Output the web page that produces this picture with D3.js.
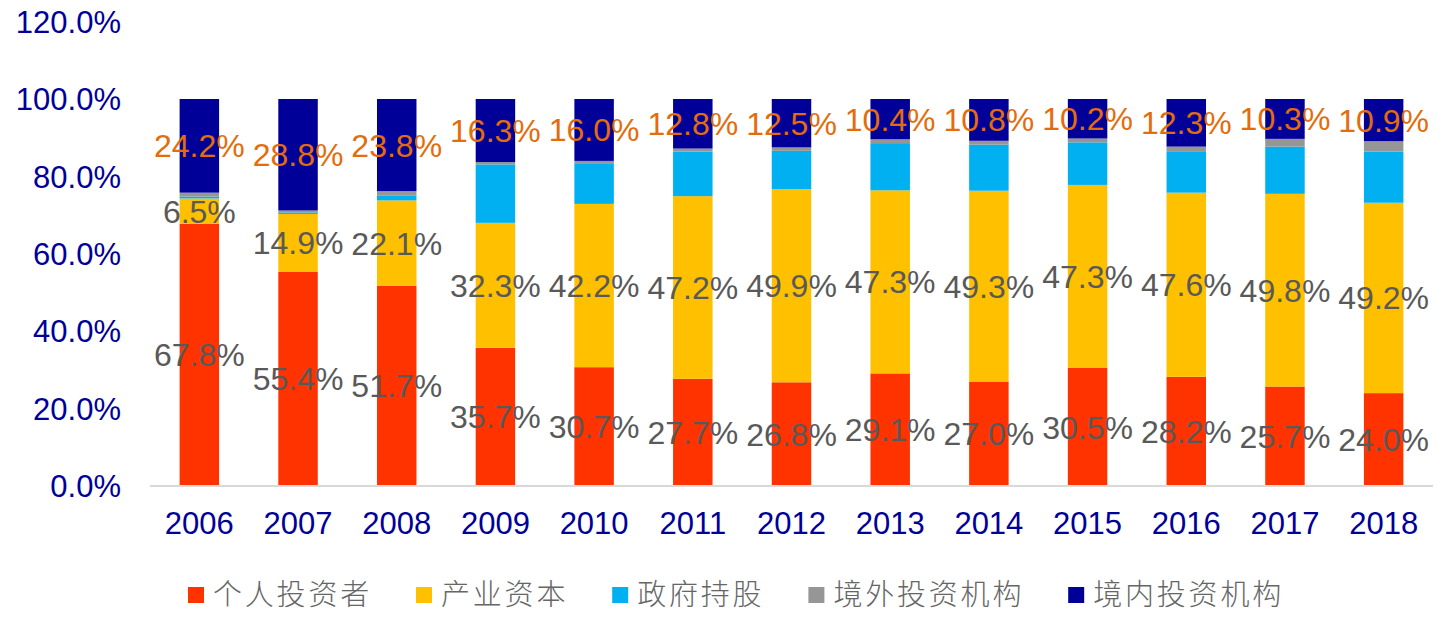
<!DOCTYPE html>
<html>
<head>
<meta charset="utf-8">
<script src="https://cdn.jsdelivr.net/npm/d3@7"></script>
<style>
  html, body { margin: 0; padding: 0; background: #fff; }
  svg { display: block; }
</style>
</head>
<body>
<div id="chart"></div>
<script>
// Years on the x axis.
var years = ['2006', '2007', '2008', '2009', '2010', '2011', '2012',
  '2013', '2014', '2015', '2016', '2017', '2018'];

// Shares (%) per holder type, bottom to top.
var personal = [67.8, 55.4, 51.7, 35.7, 30.7, 27.7, 26.8, 29.1, 27.0, 30.5, 28.2, 25.7, 24.0];
var industrial = [6.5, 14.9, 22.1, 32.3, 42.2, 47.2, 49.9, 47.3, 49.3, 47.3, 47.6, 49.8, 49.2];
var government = [0.5, 0.4, 1.3, 15.1, 10.5, 11.5, 9.9, 12.2, 11.9, 11.0, 10.7, 12.2, 13.2];
var foreign = [1.0, 0.5, 1.1, 0.6, 0.6, 0.8, 0.9, 1.0, 1.0, 1.0, 1.2, 2.0, 2.7];
var domestic = [24.2, 28.8, 23.8, 16.3, 16.0, 12.8, 12.5, 10.4, 10.8, 10.2, 12.3, 10.3, 10.9];

var seriesNames = ['个人投资者', '产业资本', '政府持股', '境外投资机构', '境内投资机构'];
var seriesValues = [personal, industrial, government, foreign, domestic];
var yTicks = [0, 20, 40, 60, 80, 100, 120];

var colors = ['#FF3300', '#FFC000', '#00B0F0', '#969696', '#000099'];
// which series get data labels, and in what colour
var labelColors = ['#595959', '#595959', null, null, '#E46C0A'];

var width = 1449, height = 618;

var svg = d3.select('#chart').append('svg')
  .attr('width', width)
  .attr('height', height);

// Build table rows for d3.stack.
var keys = seriesNames;
var rows = years.map(function (yr, i) {
  var r = { year: yr };
  keys.forEach(function (k, j) { r[k] = seriesValues[j][i]; });
  return r;
});
var stacked = d3.stack().keys(keys)(rows);

var x = d3.scaleBand()
  .domain(years)
  .range([150, 1433])
  .paddingInner(0.6)
  .paddingOuter(0.3);

var y = d3.scaleLinear()
  .domain([0, 120])
  .range([486, 21.6]);

// y tick labels (no axis line)
svg.append('g').selectAll('text')
  .data(yTicks)
  .enter().append('text')
  .attr('x', 121)
  .attr('y', function (d) { return y(d); })
  .attr('dy', '0.36em')
  .attr('text-anchor', 'end')
  .style('font-family', 'Liberation Sans, Arial, sans-serif')
  .style('font-size', '31px')
  .style('fill', '#000099')
  .text(function (d) { return d.toFixed(1) + '%'; });

// Bars
var layer = svg.append('g').selectAll('g')
  .data(stacked)
  .enter().append('g')
  .style('fill', function (d, i) { return colors[i]; });

layer.selectAll('rect')
  .data(function (d) { return d; })
  .enter().append('rect')
  .attr('x', function (d) { return x(d.data.year); })
  .attr('width', x.bandwidth())
  .attr('y', function (d) { return y(d[1]); })
  .attr('height', function (d) { return y(d[0]) - y(d[1]); });

// x axis baseline
svg.append('line')
  .attr('x1', 150).attr('x2', 1433)
  .attr('y1', 486).attr('y2', 486)
  .style('stroke', '#D9D9D9')
  .style('stroke-width', 2);

// x labels
svg.append('g').selectAll('text')
  .data(years)
  .enter().append('text')
  .attr('x', function (d) { return x(d) + x.bandwidth() / 2; })
  .attr('y', 523)
  .attr('dy', '0.36em')
  .attr('text-anchor', 'middle')
  .style('font-family', 'Liberation Sans, Arial, sans-serif')
  .style('font-size', '31px')
  .style('fill', '#000099')
  .text(function (d) { return d; });

// Data labels, centred in each segment
stacked.forEach(function (s, i) {
  if (!labelColors[i]) return;
  svg.append('g').selectAll('text')
    .data(s)
    .enter().append('text')
    .attr('x', function (d) { return x(d.data.year) + x.bandwidth() / 2; })
    .attr('y', function (d) { return y((d[0] + d[1]) / 2); })
    .attr('dy', '0.36em')
    .attr('text-anchor', 'middle')
    .style('font-family', 'Liberation Sans, Arial, sans-serif')
    .style('font-size', '32px')
    .style('fill', labelColors[i])
    .text(function (d) { return (d[1] - d[0]).toFixed(1) + '%'; });
});

// Legend
var legend = svg.append('g');
var lx = 188;
seriesNames.forEach(function (name, i) {
  legend.append('rect')
    .attr('x', lx).attr('y', 587)
    .attr('width', 16).attr('height', 16)
    .style('fill', colors[i]);
  legend.append('text')
    .attr('x', lx + 25)
    .attr('y', 595)
    .attr('dy', '0.36em')
    .style('font-family', 'Noto Sans CJK SC, sans-serif')
    .style('font-size', '29px')
    .style('font-weight', 300)
    .style('letter-spacing', '2.8px')
    .style('fill', '#666666')
    .text(name);
  lx += 25 + name.length * 31.8 + 44;
});
</script>
</body>
</html>
